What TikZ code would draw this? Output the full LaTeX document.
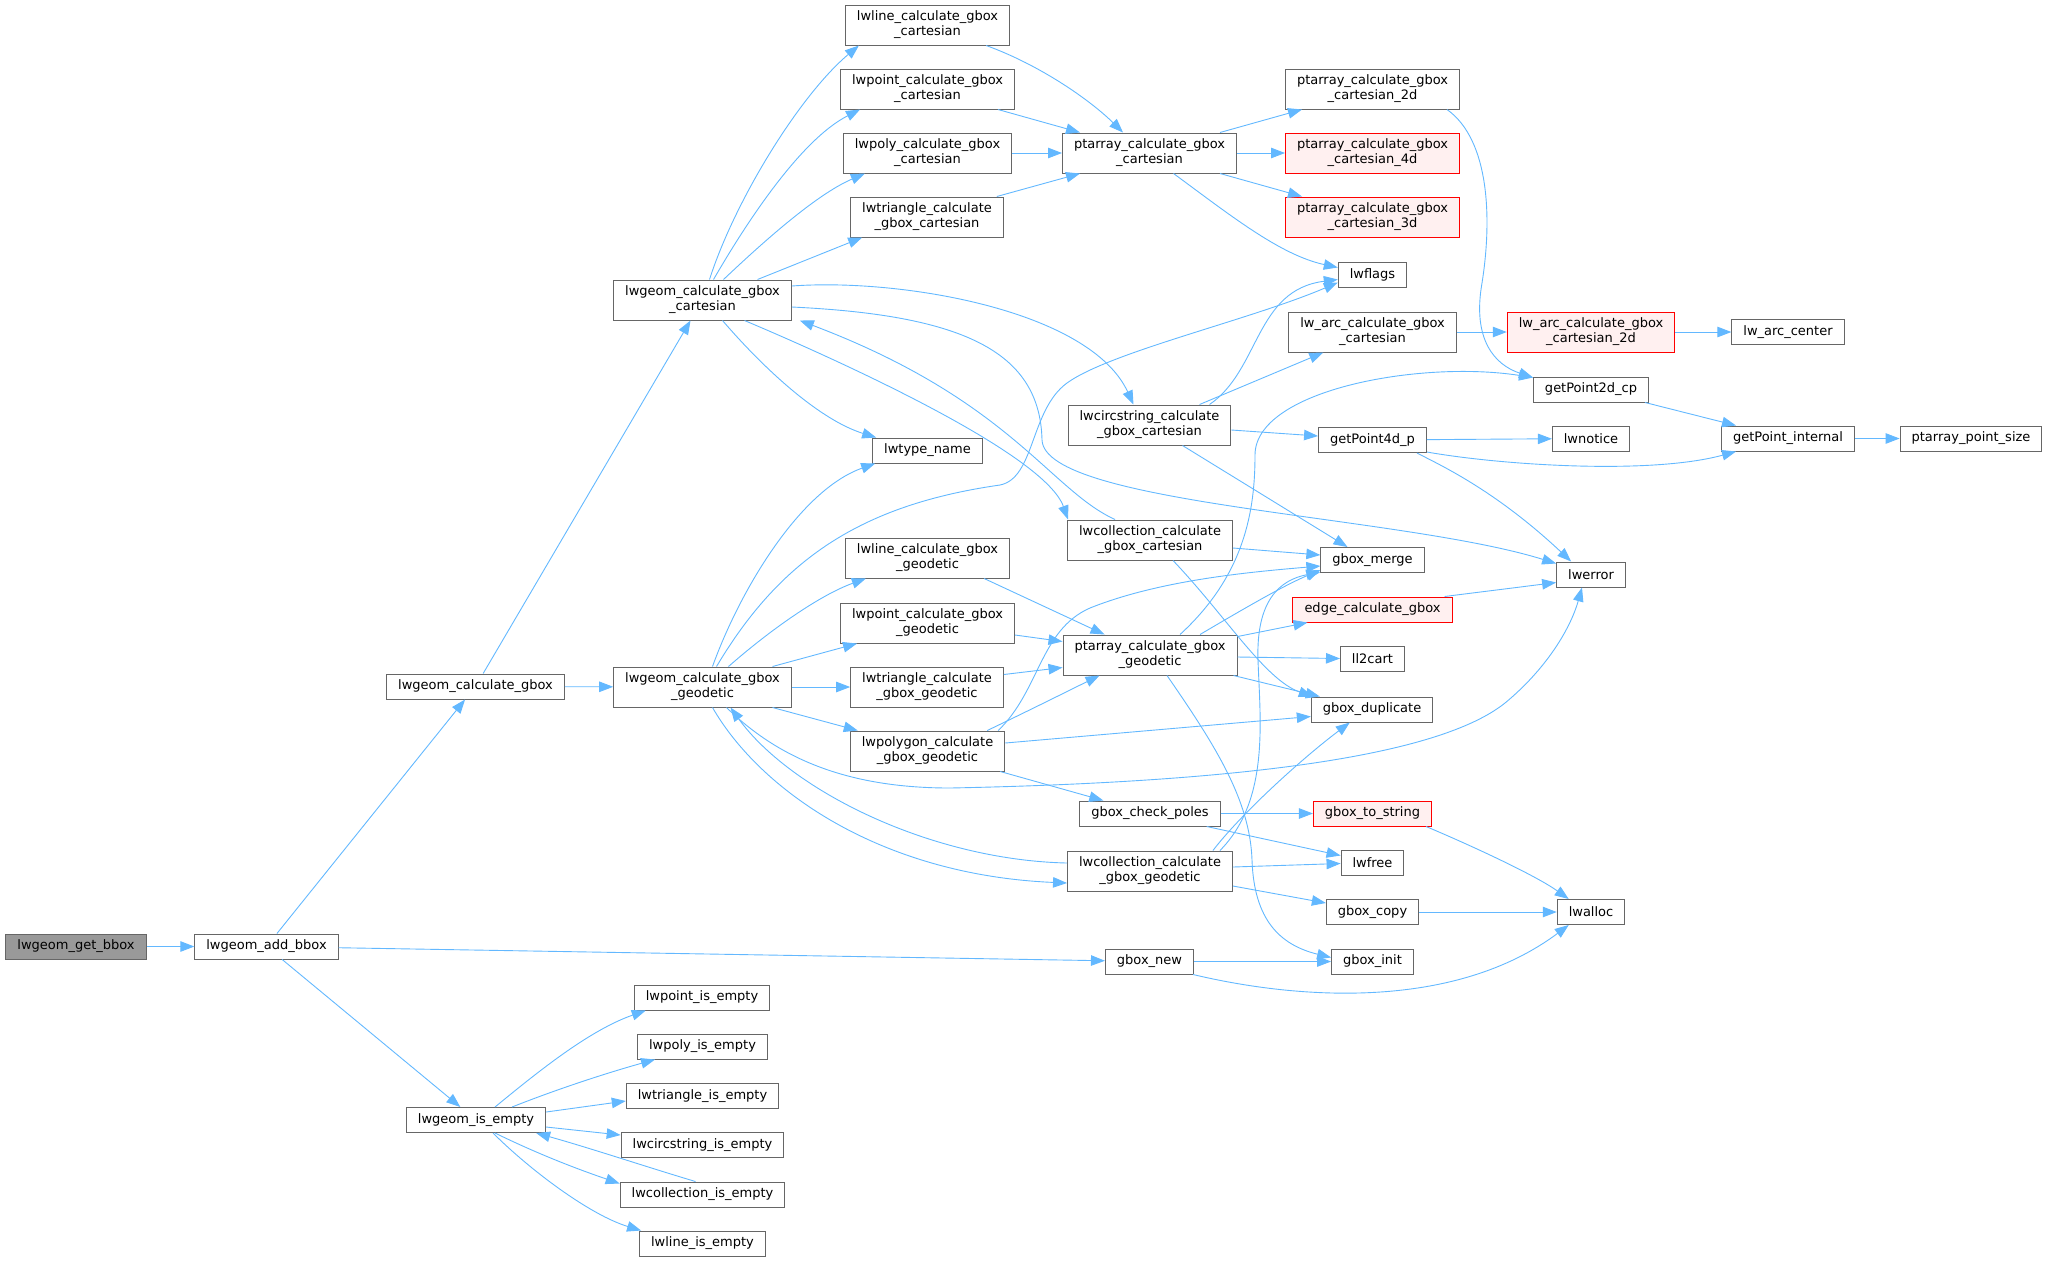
\documentclass[tikz,border=0pt]{standalone}
\usepackage{fontspec}
\setmainfont{DejaVu Sans}
\usetikzlibrary{arrows.meta, positioning, calc}
\definecolor{edgeblue}{RGB}{99,184,255}
\definecolor{nodegray}{RGB}{102,102,102}
\definecolor{rootfill}{RGB}{153,153,153}
\definecolor{truncfill}{RGB}{255,240,240}

\begin{document}
\begin{tikzpicture}[x=1pt, y=-1pt, font=\fontsize{13}{15}\selectfont,
    fn/.style={draw=nodegray, line width=1pt, fill=white, minimum height=25pt,
        inner xsep=11.5pt, inner ysep=0pt, align=center},
    fn2/.style={fn, minimum height=40pt},
    rootfn/.style={fn, fill=rootfill},
    trunc/.style={fn2, draw=red, fill=truncfill},
    call/.style={draw=edgeblue, line width=0.9pt, -{Triangle[length=14pt,width=10.5pt]}}
]
\useasboundingbox (0,0) rectangle (2055,1262);
% left column
\node[rootfn] (getbbox) at (76,946.5) {lwgeom\_get\_bbox};
\node[fn] (addbbox) at (266.5,946.5) {lwgeom\_add\_bbox};
\node[fn] (calcgbox) at (475.5,686.5) {lwgeom\_calculate\_gbox};
\node[fn] (isempty) at (476,1120) {lwgeom\_is\_empty};
% second column
\node[fn2] (cart) at (702.5,300) {lwgeom\_calculate\_gbox\\\_cartesian};
\node[fn2] (geod) at (702.5,687) {lwgeom\_calculate\_gbox\\\_geodetic};
\node[fn] (ptempty) at (702,997.5) {lwpoint\_is\_empty};
\node[fn] (polyempty) at (702.5,1046.5) {lwpoly\_is\_empty};
\node[fn] (triempty) at (702.5,1096) {lwtriangle\_is\_empty};
\node[fn] (circempty) at (702.5,1145) {lwcircstring\_is\_empty};
\node[fn] (collempty) at (702.5,1194.5) {lwcollection\_is\_empty};
\node[fn] (lineempty) at (702.5,1243.5) {lwline\_is\_empty};
% third column
\node[fn2] (lnc) at (927.5,25) {lwline\_calculate\_gbox\\\_cartesian};
\node[fn2] (ptc) at (927.5,89) {lwpoint\_calculate\_gbox\\\_cartesian};
\node[fn2] (plc) at (927.5,153) {lwpoly\_calculate\_gbox\\\_cartesian};
\node[fn2] (trc) at (927,217) {lwtriangle\_calculate\\\_gbox\_cartesian};
\node[fn] (typename) at (927.5,450.5) {lwtype\_name};
\node[fn2] (lng) at (927.5,558) {lwline\_calculate\_gbox\\\_geodetic};
\node[fn2] (ptg) at (927.5,623) {lwpoint\_calculate\_gbox\\\_geodetic};
\node[fn2] (trg) at (927,687) {lwtriangle\_calculate\\\_gbox\_geodetic};
\node[fn2] (pgg) at (927.5,751) {lwpolygon\_calculate\\\_gbox\_geodetic};
% fourth column
\node[fn2] (pac) at (1149.5,153) {ptarray\_calculate\_gbox\\\_cartesian};
\node[fn2] (circ) at (1149.5,425) {lwcircstring\_calculate\\\_gbox\_cartesian};
\node[fn2] (collc) at (1150,540) {lwcollection\_calculate\\\_gbox\_cartesian};
\node[fn2] (pag) at (1150,655) {ptarray\_calculate\_gbox\\\_geodetic};
\node[fn] (poles) at (1150,813.5) {gbox\_check\_poles};
\node[fn2] (collg) at (1150,871) {lwcollection\_calculate\\\_gbox\_geodetic};
\node[fn] (gnew) at (1149.5,961.5) {gbox\_new};
% fifth column
\node[fn2] (pa2d) at (1372.5,89) {ptarray\_calculate\_gbox\\\_cartesian\_2d};
\node[trunc] (pa4d) at (1372.5,153) {ptarray\_calculate\_gbox\\\_cartesian\_4d};
\node[trunc] (pa3d) at (1372.5,217) {ptarray\_calculate\_gbox\\\_cartesian\_3d};
\node[fn] (lwflags) at (1372.5,274.5) {lwflags};
\node[fn2] (arcc) at (1372.5,332) {lw\_arc\_calculate\_gbox\\\_cartesian};
\node[fn] (getp4d) at (1372.5,440) {getPoint4d\_p};
\node[fn] (merge) at (1372.5,560) {gbox\_merge};
\node[fn, draw=red, fill=truncfill] (edgecalc) at (1372.5,609.5) {edge\_calculate\_gbox};
\node[fn] (ll2cart) at (1372.5,658.5) {ll2cart};
\node[fn] (dup) at (1372,709.5) {gbox\_duplicate};
\node[fn, draw=red, fill=truncfill] (tostring) at (1372.5,813.5) {gbox\_to\_string};
\node[fn] (lwfree) at (1372.5,862.5) {lwfree};
\node[fn] (gcopy) at (1372.5,912) {gbox\_copy};
\node[fn] (ginit) at (1372.5,961.5) {gbox\_init};
% sixth column
\node[trunc] (arc2d) at (1591,332) {lw\_arc\_calculate\_gbox\\\_cartesian\_2d};
\node[fn] (getp2d) at (1591,389.5) {getPoint2d\_cp};
\node[fn] (lwnotice) at (1591,438.5) {lwnotice};
\node[fn] (lwerror) at (1591,574.5) {lwerror};
\node[fn] (lwalloc) at (1591,912) {lwalloc};
% right end
\node[fn] (arccenter) at (1788,332) {lw\_arc\_center};
\node[fn] (getpint) at (1788,438.5) {getPoint\_internal};
\node[fn] (ptsize) at (1971,438.5) {ptarray\_point\_size};
% straight calls
\foreach \a/\b in {getbbox/addbbox, addbbox/calcgbox, addbbox/gnew, addbbox/isempty,
    calcgbox/cart, calcgbox/geod, geod/trg, plc/pac, pac/pa4d, arcc/arc2d,
    arc2d/arccenter, getp4d/lwnotice, getpint/ptsize, poles/tostring,
    gcopy/lwalloc, gnew/ginit}
    \draw[call] (\a) -- (\b);
% lwgeom_calculate_gbox_cartesian
\draw[call] ([xshift=7pt]cart.north) .. controls (735,200) and (800,95) .. ([xshift=14pt]lnc.south west);
\draw[call] ([xshift=11pt]cart.north) .. controls (745,225) and (800,140) .. ([xshift=20pt]ptc.south west);
\draw[call] ([xshift=21pt]cart.north) .. controls (760,245) and (815,195) .. ([xshift=22pt]plc.south west);
\draw[call] ([xshift=55pt]cart.north) -- ([xshift=12pt]trc.south west);
\draw[call] ([yshift=14pt]cart.east) .. controls (900,278) and (1090,310) .. ([xshift=-16pt]circ.north);
\draw[call] ([yshift=-7pt]cart.east) .. controls (960,315) and (1040,350) .. (1042,440)
    .. controls (1045,505) and (1400,515) .. ([yshift=-2pt]lwerror.north west);
\draw[call] ([xshift=42pt]cart.south) .. controls (850,365) and (1045,455) .. ([xshift=1pt]collc.north west);
\draw[call] ([xshift=48pt]collc.north west) .. controls (1050,490) and (1010,400) .. ([xshift=8pt]cart.south east);
\draw[call] ([xshift=20pt]cart.south) .. controls (765,370) and (820,420) .. ([xshift=4pt]typename.north west);
% lwgeom_calculate_gbox_geodetic
\draw[call] ([xshift=10pt]geod.north) .. controls (740,590) and (800,490) .. ([xshift=3pt]typename.south west);
\draw[call] ([xshift=14pt]geod.north) .. controls (780,560) and (860,505) .. (1000,485)
    .. controls (1035,478) and (1030,410) .. (1067,383)
    .. controls (1110,352) and (1250,320) .. ([yshift=-8pt]lwflags.west);
\draw[call] ([xshift=26pt]geod.north) .. controls (770,630) and (820,595) .. ([xshift=21pt]lng.south west);
\draw[call] ([xshift=70pt]geod.north) -- ([xshift=17pt]ptg.south west);
\draw[call] ([xshift=70pt]geod.south) -- ([xshift=8pt]pgg.north west);
\draw[call] ([xshift=10pt]geod.south) .. controls (760,790) and (880,875) .. ([yshift=-12pt]collg.west);
\draw[call] ([yshift=8pt]collg.west) .. controls (930,860) and (790,790) .. ([xshift=28pt]geod.south);
\draw[call] ([xshift=24pt]geod.south) .. controls (780,760) and (850,788) .. (950,788)
    .. controls (1250,782) and (1440,755) .. (1505,703)
    .. controls (1545,670) and (1570,630) .. ([xshift=-9pt]lwerror.south);
% ptarray cartesian
\draw[call] ([xshift=-24pt]lnc.south east) .. controls (1040,65) and (1090,100) .. ([xshift=-26.5pt]pac.north);
\draw[call] ([xshift=-17pt]ptc.south east) -- ([xshift=18pt]pac.north west);
\draw[call] ([xshift=-7pt]trc.north east) -- ([xshift=18pt]pac.south west);
\draw[call] ([xshift=-17pt]pac.north east) -- ([xshift=17pt]pa2d.south west);
\draw[call] ([xshift=-17pt]pac.south east) -- ([xshift=17pt]pa3d.north west);
\draw[call] ([xshift=24pt]pac.south) .. controls (1230,215) and (1280,255) .. ([yshift=7pt]lwflags.west);
\draw[call] ([xshift=-13pt]pa2d.south east) .. controls (1490,140) and (1492,220) .. (1482,283)
    .. controls (1472,340) and (1495,365) .. ([yshift=-1pt]getp2d.north west);
% lwcircstring
\draw[call] ([xshift=50pt]circ.north) -- ([xshift=35pt]arcc.south west);
\draw[call] ([xshift=60pt]circ.north) .. controls (1260,370) and (1255,290) .. ([yshift=-5pt]lwflags.west);
\draw[call] ([yshift=-5pt]circ.east) -- ([yshift=4pt]getp4d.west);
\draw[call] ([xshift=33pt]circ.south) -- ([xshift=-25pt]merge.north);
\draw[call] ([yshift=-12pt]getp4d.east) .. controls (1500,465) and (1650,475) .. ([xshift=15pt]getpint.south west);
\draw[call] ([xshift=-10pt]getp4d.south east) .. controls (1440,465) and (1495,490) .. ([xshift=15pt]lwerror.north west);
\draw[call] ([xshift=-4pt]getp2d.south east) -- ([xshift=15pt]getpint.north west);
% ptarray geodetic
\draw[call] ([xshift=30pt]pag.north) .. controls (1245,575) and (1255,510) .. (1255,455)
    .. controls (1255,390) and (1420,360) .. ([yshift=-1pt]getp2d.north west);
\draw[call] ([xshift=50pt]pag.north) .. controls (1250,605) and (1285,585) .. ([yshift=-10pt]merge.west);
\draw[call] ([yshift=-2pt]pag.north east) -- ([xshift=15pt]edgecalc.south west);
\draw[call] ([yshift=-2pt]pag.east) -- (ll2cart.west);
\draw[call] ([xshift=-4pt]pag.south east) -- ([xshift=9pt]dup.north west);
\draw[call] ([xshift=17pt]pag.south) .. controls (1215,745) and (1250,800) .. (1252,860)
    .. controls (1254,920) and (1280,945) .. ([yshift=4pt]ginit.west);
\draw[call] ([xshift=-26pt]lng.south east) -- ([xshift=42pt]pag.north west);
\draw[call] ([yshift=-12pt]ptg.east) -- ([yshift=-7pt]pag.north west);
\draw[call] ([yshift=-8pt]trg.north east) -- ([yshift=8pt]pag.south west);
% lwpolygon geodetic
\draw[call] ([xshift=-18pt]pgg.north east) .. controls (1030,710) and (1070,690) .. ([xshift=37pt]pag.south west);
\draw[call] ([xshift=-7pt]pgg.north east) .. controls (1040,690) and (1040,630) .. (1090,608)
    .. controls (1160,580) and (1250,572) .. ([yshift=-6pt]merge.west);
\draw[call] ([yshift=8pt]pgg.east) -- ([yshift=-7pt]dup.west);
\draw[call] ([xshift=-5pt]pgg.south east) -- ([xshift=24pt]poles.north west);
% lwcollection
\draw[call] ([yshift=-8pt]collc.east) -- ([yshift=5pt]merge.west);
\draw[call] ([xshift=23pt]collc.south) .. controls (1225,615) and (1265,680) .. ([xshift=2pt]dup.north west);
\draw[call] ([yshift=4pt]collg.east) -- ([yshift=-1pt]lwfree.west);
\draw[call] ([yshift=-15pt]collg.east) -- ([yshift=9pt]gcopy.west);
\draw[call] ([xshift=-20pt]collg.north east) .. controls (1240,815) and (1300,760) .. ([xshift=39pt]dup.south west);
\draw[call] ([xshift=-13pt]collg.north east) .. controls (1270,800) and (1260,720) .. (1258,660)
    .. controls (1256,600) and (1280,580) .. ([yshift=-12pt]merge.west);
% leaves
\draw[call] ([xshift=-14pt]poles.south east) -- ([yshift=7pt]lwfree.west);
\draw[call] ([xshift=-8pt]edgecalc.north east) -- ([yshift=-8pt]lwerror.west);
\draw[call] ([xshift=-6pt]tostring.south east) .. controls (1470,845) and (1535,875) .. ([xshift=12pt]lwalloc.north west);
\draw[call] ([xshift=-1pt]gnew.south east) .. controls (1300,1000) and (1455,1010) .. ([xshift=12pt]lwalloc.south west);
% lwgeom_is_empty
\draw[call] ([xshift=19pt]isempty.north) .. controls (540,1070) and (590,1030) .. ([xshift=12pt]ptempty.south west);
\draw[call] ([xshift=36pt]isempty.north) .. controls (560,1088) and (610,1072) .. ([xshift=18pt]polyempty.south west);
\draw[call] ([yshift=8pt]isempty.east) -- ([yshift=-5pt]triempty.west);
\draw[call] ([yshift=-7pt]isempty.east) -- ([yshift=10pt]circempty.west);
\draw[call] ([xshift=19pt]isempty.south) .. controls (540,1155) and (580,1170) .. ([yshift=-2pt]collempty.north west);
\draw[call] ([xshift=-7pt]collempty.north) .. controls (650,1168) and (590,1148) .. ([xshift=-10pt]isempty.south east);
\draw[call] ([xshift=17pt]isempty.south) .. controls (530,1170) and (590,1215) .. ([xshift=2pt]lineempty.north west);
\end{tikzpicture}
\end{document}
